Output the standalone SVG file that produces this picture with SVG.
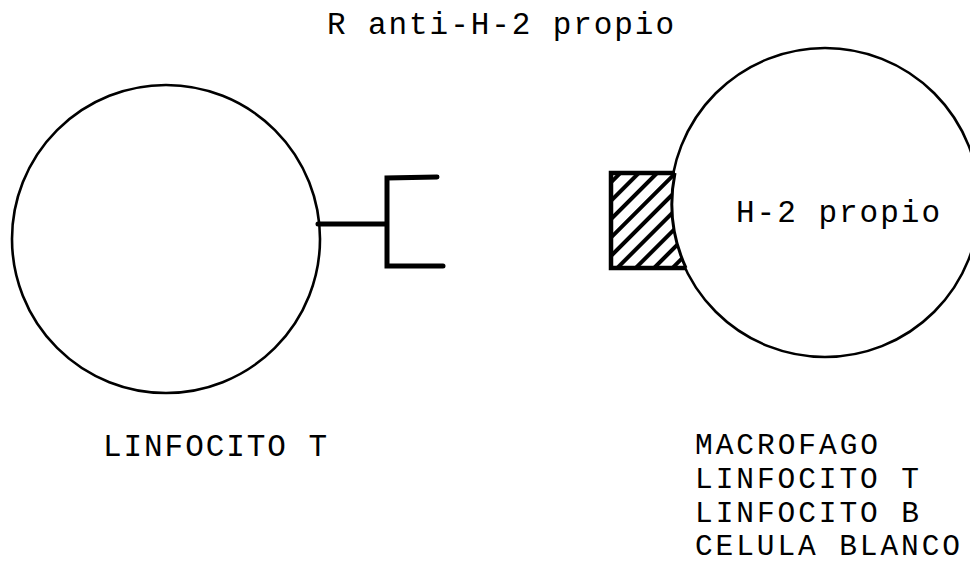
<svg xmlns="http://www.w3.org/2000/svg" width="970" height="564" viewBox="0 0 970 564">
<style>
  .cell { fill: #fff; stroke: #000; stroke-width: 2.6; }
  .rec { fill: none; stroke: #000; stroke-width: 5; stroke-linecap: round; stroke-linejoin: miter; }
  .lbl { font-family: "Liberation Mono", "Courier New", monospace; font-size: 31px; fill: #000; }
  .lst { font-size: 29.5px; }
</style>
<defs>
  <pattern id="hatch" patternUnits="userSpaceOnUse" width="13" height="13" patternTransform="rotate(45)">
    <rect x="0" y="0" width="13" height="13" fill="#fff"/>
    <line x1="2" y1="0" x2="2" y2="13" stroke="#000" stroke-width="4"/>
  </pattern>
</defs>
<rect width="970" height="564" fill="#fff"/>
<g id="title">
  <text class="lbl" x="327" y="34" textLength="347" lengthAdjust="spacing">R anti-H-2 propio</text>
</g>
<g id="linfocito-t">
  <circle class="cell" cx="166" cy="239" r="154"/>
  <text class="lbl" x="103" y="456" textLength="224" lengthAdjust="spacing">LINFOCITO T</text>
</g>
<g id="receptor">
  <path class="rec" d="M318 224 H387 M437 177 L387 178 V266 H443"/>
</g>
<g id="celula-blanco">
  <circle class="cell" cx="825" cy="202.5" r="154.5"/>
  <text class="lbl" x="736" y="222" textLength="204" lengthAdjust="spacing">H-2 propio</text>
  <text class="lbl lst" x="695" y="454" textLength="183" lengthAdjust="spacing">MACROFAGO</text>
  <text class="lbl lst" x="695" y="488" textLength="224" lengthAdjust="spacing">LINFOCITO T</text>
  <text class="lbl lst" x="695" y="522" textLength="224" lengthAdjust="spacing">LINFOCITO B</text>
  <text class="lbl lst" x="695" y="555" textLength="265" lengthAdjust="spacing">CELULA BLANCO</text>
</g>
<g id="h2-antigen">
  <path d="M675 173 H611 V268 H686 A154.5 154.5 0 0 1 675 173 Z" fill="url(#hatch)" stroke="none"/>
  <path d="M675 173 H611 V268 H686" fill="none" stroke="#000" stroke-width="4.5" stroke-linejoin="miter"/>
  <path d="M686 268 A154.5 154.5 0 0 1 675 173" fill="none" stroke="#000" stroke-width="3"/>
</g>
<g id="connectors"></g>
</svg>
